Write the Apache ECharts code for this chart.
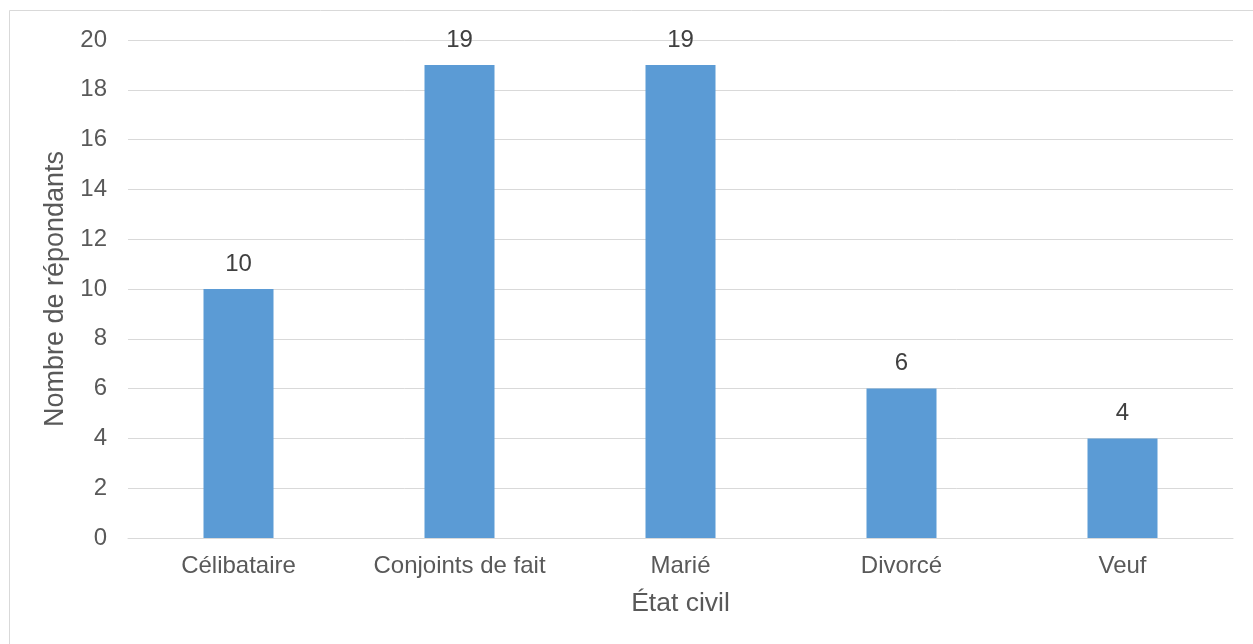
<!DOCTYPE html>
<html>
<head>
<meta charset="utf-8">
<script src="https://cdn.jsdelivr.net/npm/echarts@6/dist/echarts.min.js"></script>
<style>
html,body{margin:0;padding:0;background:#fff;}
#chart{width:1253px;height:644px;}
</style>
</head>
<body>
<div id="chart"></div>
<script>
const categories = ['Célibataire', 'Conjoints de fait', 'Marié', 'Divorcé', 'Veuf'];
const values = [10, 19, 19, 6, 4];
const xTitle = 'État civil';
const yTitle = 'Nombre de répondants';

const chart = echarts.init(document.getElementById('chart'), null, {renderer: 'canvas'});
const font = 'Liberation Sans, Arial, sans-serif';
chart.setOption({
  animation: false,
  backgroundColor: '#fff',
  graphic: [{
    type: 'rect',
    shape: {x: 9.5, y: 10.5, width: 1300, height: 700},
    style: {fill: 'none', stroke: '#D9D9D9', lineWidth: 1},
    silent: true
  }],
  grid: {left: 128, right: 20, top: 40, bottom: 106, containLabel: false},
  xAxis: {
    type: 'category',
    data: categories,
    name: xTitle,
    nameLocation: 'middle',
    nameGap: 52,
    nameTextStyle: {fontFamily: font, fontSize: 26.5, color: '#595959'},
    axisLine: {show: true, lineStyle: {color: '#D9D9D9', width: 1}},
    axisTick: {show: false},
    axisLabel: {interval: 0, hideOverlap: false, fontFamily: font, fontSize: 24, color: '#595959', margin: 16}
  },
  yAxis: {
    type: 'value',
    min: 0, max: 20, interval: 2,
    name: yTitle,
    nameLocation: 'middle',
    nameGap: 56,
    nameRotate: 90,
    nameTextStyle: {fontFamily: font, fontSize: 27, color: '#595959'},
    axisLine: {show: false},
    axisTick: {show: false},
    axisLabel: {fontFamily: font, fontSize: 24, color: '#595959', margin: 21},
    splitLine: {lineStyle: {color: '#D9D9D9', width: 1}}
  },
  series: [{
    type: 'bar',
    data: values,
    barWidth: 70,
    itemStyle: {color: '#5B9BD5'},
    label: {show: true, position: 'top', distance: 13, fontFamily: font, fontSize: 24, color: '#404040'}
  }]
});
</script>
</body>
</html>
